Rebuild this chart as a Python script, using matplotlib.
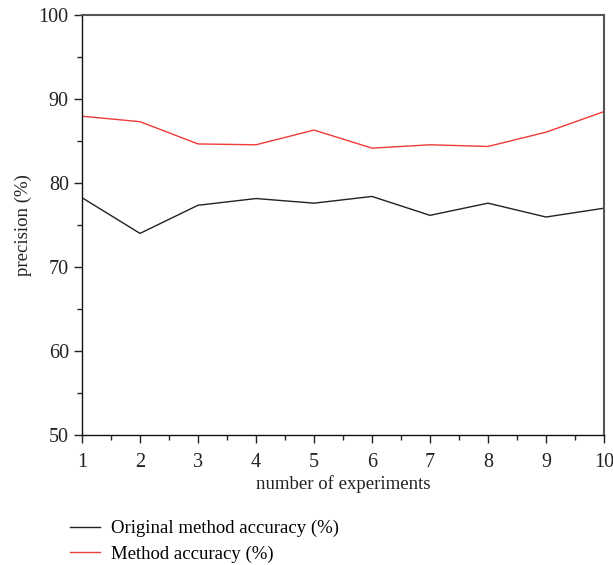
import matplotlib
matplotlib.use('Agg')
import matplotlib.pyplot as plt
from matplotlib.ticker import MultipleLocator
from matplotlib.lines import Line2D

experiments = [1, 2, 3, 4, 5, 6, 7, 8, 9, 10]
original_acc = [78.25, 74.0, 77.35, 78.15, 77.6, 78.4, 76.15, 77.6, 75.95, 77.0]
method_acc = [87.95, 87.3, 84.65, 84.55, 86.3, 84.15, 84.55, 84.35, 86.05, 88.5]

plt.rcParams['font.family'] = ['Liberation Serif', 'DejaVu Serif']

fig = plt.figure(figsize=(6.13, 5.65), dpi=100)
ax = fig.add_axes([82/613, 1 - 435/565, (604-82)/613, (435-15)/565])

ax.plot(experiments, original_acc, color='#222222', linewidth=1.0)
ax.plot(experiments, method_acc, color='#f03a3a', linewidth=1.0)

ax.set_xlim(1, 10)
ax.set_ylim(50, 100)
ax.xaxis.set_major_locator(MultipleLocator(1))
ax.xaxis.set_minor_locator(MultipleLocator(0.5))
ax.yaxis.set_major_locator(MultipleLocator(10))
ax.yaxis.set_minor_locator(MultipleLocator(5))
ax.tick_params(which='major', length=6, width=1.0, labelsize=14.5, colors='#222222')
ax.tick_params(which='minor', length=3.5, width=1.0, colors='#222222')
ax.tick_params(axis='x', pad=7)

for s in ['left', 'bottom']:
    ax.spines[s].set_color('#111111')
    ax.spines[s].set_linewidth(1.0)
for s in ['top', 'right']:
    ax.spines[s].set_color('#555555')
    ax.spines[s].set_linewidth(1.5)

ax.set_xlabel('number of experiments', fontsize=13.5, color='#222222', labelpad=2)
ax.set_ylabel('precision (%)', fontsize=13.5, color='#222222', labelpad=5)

handles = [Line2D([0], [0], color='#222222', lw=1.0),
           Line2D([0], [0], color='#f03a3a', lw=1.0)]
fig.legend(handles, ['Original method accuracy (%)', 'Method accuracy (%)'],
           loc='upper left', bbox_to_anchor=(70/613, 1 - 520/565), frameon=False,
           fontsize=13.5, handlelength=1.6, handletextpad=0.6, labelspacing=0.45,
           borderaxespad=0, borderpad=0)

fig.savefig('out.png', dpi=100)
